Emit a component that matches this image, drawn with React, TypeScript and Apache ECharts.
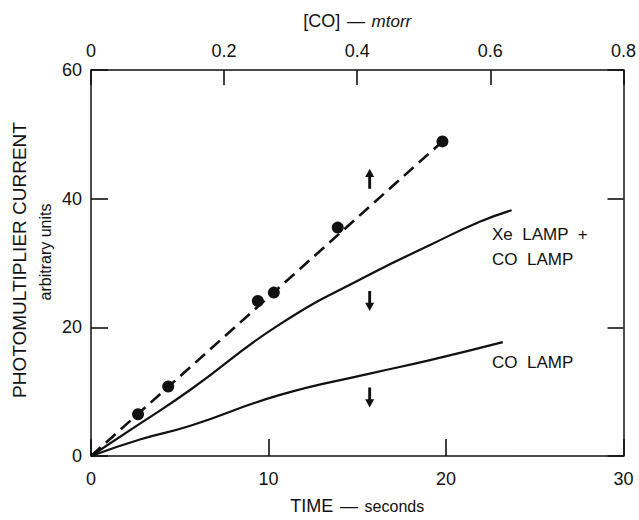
import React, { useEffect, useRef } from "react";
import * as echarts from "echarts";

// ---- data ----
const timeTicks = [0, 10, 20, 30];
const coTicks = [0, 0.2, 0.4, 0.6, 0.8];
const currentTicks = [0, 20, 40, 60];

const measuredPoints: [number, number][] = [
  [2.65, 6.5],
  [4.35, 10.8],
  [9.4, 24.1],
  [10.3, 25.4],
  [13.9, 35.5],
  [19.8, 48.9],
];
const fitLine: [number, number][] = [
  [0, 0],
  [19.8, 48.9],
];
const xeCoLamp: [number, number][] = [
  [0, 0],
  [2.8, 5.1],
  [5.6, 10.3],
  [10.65, 20.5],
  [15.7, 28.2],
  [19.1, 32.8],
  [21.9, 36.4],
  [23.7, 38.2],
];
const coLamp: [number, number][] = [
  [0, 0],
  [2.8, 2.6],
  [5.6, 4.7],
  [10.65, 9.5],
  [15.7, 12.8],
  [19.1, 14.9],
  [23.2, 17.7],
];
const arrowsUp: [number, number][] = [[15.7, 43.1]];
const arrowsDown: [number, number][] = [
  [15.7, 24.1],
  [15.7, 9.1],
];

const INK = "#111";
const FONT = "Liberation Sans, Arial, sans-serif";
const ARROW = "path://M5,0 L10,9 L6.6,9 L6.6,22 L3.4,22 L3.4,9 L0,9 Z";

export default function App() {
  const ref = useRef<HTMLDivElement>(null);
  useEffect(() => {
    if (!ref.current) return;
    const chart = echarts.init(ref.current, null, { renderer: "svg" });
    const axisLine = { show: true, onZero: false, lineStyle: { color: INK, width: 1.5 } };
    const tick = (length: number) => ({
      show: true,
      inside: true,
      length,
      lineStyle: { color: INK, width: 1.6 },
    });
    chart.setOption({
      animation: false,
      backgroundColor: "#fff",
      textStyle: { fontFamily: FONT, color: INK },
      grid: { left: 91, right: 14, top: 70, bottom: 60 },
      xAxis: [
        {
          type: "value",
          position: "bottom",
          min: timeTicks[0],
          max: timeTicks[timeTicks.length - 1],
          interval: 10,
          axisLine,
          axisTick: tick(17),
          axisLabel: { color: INK, fontSize: 18, fontFamily: FONT, margin: 14 },
          splitLine: { show: false },
          name: "{a|TIME}  {d|—}  {b|seconds}",
          nameLocation: "middle",
          nameGap: 41,
          nameTextStyle: {
            rich: {
              a: { fontSize: 18, fontFamily: FONT, color: INK },
              d: { fontSize: 18, fontFamily: FONT, color: INK },
              b: { fontSize: 16, fontFamily: FONT, color: INK },
            },
          },
        },
        {
          type: "value",
          position: "top",
          min: coTicks[0],
          max: coTicks[coTicks.length - 1],
          interval: 0.2,
          axisLine,
          axisTick: tick(15),
          axisLabel: { color: INK, fontSize: 18, fontFamily: FONT, margin: 10 },
          splitLine: { show: false },
          name: "{a|[CO]}  {d|—}  {b|mtorr}",
          nameLocation: "middle",
          nameGap: 40,
          nameTextStyle: {
            rich: {
              a: { fontSize: 18, fontFamily: FONT, color: INK },
              d: { fontSize: 18, fontFamily: FONT, color: INK },
              b: { fontSize: 17, fontFamily: FONT, color: INK, fontStyle: "italic" },
            },
          },
        },
      ],
      yAxis: [
        {
          type: "value",
          position: "left",
          min: currentTicks[0],
          max: currentTicks[currentTicks.length - 1],
          interval: 20,
          axisLine,
          axisTick: tick(17),
          axisLabel: { color: INK, fontSize: 18, fontFamily: FONT, margin: 9 },
          splitLine: { show: false },
        },
        {
          type: "value",
          position: "right",
          min: currentTicks[0],
          max: currentTicks[currentTicks.length - 1],
          interval: 20,
          axisLine,
          axisTick: tick(16),
          axisLabel: { show: false },
          splitLine: { show: false },
        },
      ],
      graphic: [
        {
          type: "text",
          x: 19,
          y: 260,
          rotation: Math.PI / 2,
          style: {
            text: "PHOTOMULTIPLIER CURRENT",
            fontSize: 19,
            fontFamily: FONT,
            fill: INK,
            align: "center",
            verticalAlign: "middle",
          },
        },
        {
          type: "text",
          x: 45,
          y: 252,
          rotation: Math.PI / 2,
          style: {
            text: "arbitrary units",
            fontSize: 16,
            fontFamily: FONT,
            fill: INK,
            align: "center",
            verticalAlign: "middle",
          },
        },
        {
          type: "text",
          x: 492,
          y: 234,
          style: { text: "Xe  LAMP  +", fontSize: 17, fontFamily: FONT, fill: INK, verticalAlign: "middle" },
        },
        {
          type: "text",
          x: 492,
          y: 259,
          style: { text: "CO  LAMP", fontSize: 17, fontFamily: FONT, fill: INK, verticalAlign: "middle" },
        },
        {
          type: "text",
          x: 492,
          y: 362,
          style: { text: "CO  LAMP", fontSize: 17, fontFamily: FONT, fill: INK, verticalAlign: "middle" },
        },
      ],
      series: [
        {
          type: "line",
          data: fitLine,
          showSymbol: false,
          lineStyle: { color: INK, width: 2.6, type: [13, 7] },
          z: 3,
        },
        {
          type: "line",
          data: xeCoLamp,
          smooth: 0.5,
          showSymbol: false,
          lineStyle: { color: INK, width: 2.2 },
        },
        {
          type: "line",
          data: coLamp,
          smooth: 0.5,
          showSymbol: false,
          lineStyle: { color: INK, width: 2.2 },
        },
        {
          type: "scatter",
          data: measuredPoints,
          symbol: "circle",
          symbolSize: 12,
          itemStyle: { color: INK, opacity: 1 },
          z: 4,
        },
        {
          type: "scatter",
          data: arrowsUp,
          symbol: ARROW,
          symbolSize: [9, 20],
          itemStyle: { color: INK, opacity: 1 },
        },
        {
          type: "scatter",
          data: arrowsDown,
          symbol: ARROW,
          symbolRotate: 180,
          symbolSize: [9, 20],
          itemStyle: { color: INK, opacity: 1 },
        },
      ],
    });
    return () => chart.dispose();
  }, []);
  return (
    <div
      ref={ref}
      style={{ position: "fixed", left: 0, top: 0, width: 639, height: 520, background: "#fff" }}
    />
  );
}
